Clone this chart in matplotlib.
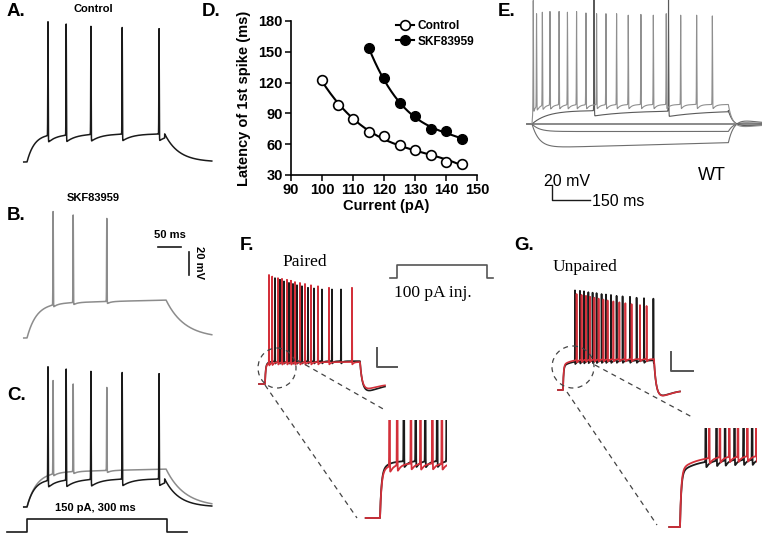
import numpy as np
import matplotlib.pyplot as plt
from matplotlib.patches import Ellipse

plt.rcParams['font.family'] = ['Liberation Sans', 'DejaVu Sans']

# ---------------------------------------------------------
# data
# ---------------------------------------------------------
# A / C : control cell, spike times (ms after step onset) and peaks (mV)
ctrl_spike_t = [45, 84, 137, 204, 283]
ctrl_spike_v = [52, 50, 48, 47, 46]
# B / C : same cell in SKF83959
skf_spike_t = [56, 99, 171]
skf_spike_v = [40, 37, 34]
stim_amp_c = 150   # pA
stim_dur_c = 300   # ms

# D : latency of first spike vs injected current
current_ctrl = [100, 105, 110, 115, 120, 125, 130, 135, 140, 145]
latency_ctrl = [123, 98, 85, 72, 68, 59, 54, 49, 43, 41]
current_skf = [115, 120, 125, 130, 135, 140, 145]
latency_skf = [154, 124, 100, 87, 75, 73, 65]

# E : WT family of current steps
e_fast_t = [5, 18, 41, 71, 107, 140, 176, 213, 255, 292, 334, 380, 430, 479, 530, 587, 650, 712]
e_fast_v = [89, 71, 73, 74, 74, 73, 74, 72, 71, 71, 71, 69, 70, 69, 71, 69, 69, 68]
e_slow_t = [245, 539]
e_slow_v = [91, 91]
e_hyper_levels = [-70, -80, -102]
e_hyper_drift = [0, 0, 7]

# F : paired
f_red_t = [20, 36, 65, 85, 110, 130, 150, 175, 200, 230, 265, 320, 435]
f_red_v = [44.5, 42.7, 41, 40.2, 39.2, 38.2, 36.8, 35.8, 34.7, 33.3, 32.2, 30.5, 30.5]
f_blk_t = [50, 75, 95, 120, 140, 160, 185, 215, 245, 285, 335, 380]
f_blk_v = [41, 39.2, 37.4, 35.8, 34.7, 33.3, 32.2, 30.5, 29.8, 28.7, 28.7, 28.7]
stim_amp_f = 100

# G : unpaired
g_blk_t = [60, 85, 105, 127, 148, 168, 193, 215, 240, 268, 298, 335, 368, 405, 452]
g_blk_v = [34, 33.5, 33, 32, 31.5, 31, 30, 29.5, 29, 28, 27.5, 27, 26, 25.5, 25]
g_red_t = [68, 93, 115, 135, 157, 178, 202, 223, 252, 282, 312, 343, 385, 418]
g_red_v = [30, 29, 28, 27, 26, 25, 24, 23, 22, 21, 20, 19, 18, 17]

W, H = 762, 536
fig = plt.figure(figsize=(W / 100, H / 100), dpi=100)


def fbox(x0, y0, x1, y1):
    return [x0 / W, 1 - y1 / H, (x1 - x0) / W, (y1 - y0) / H]


# axes placed by pixel box, data scale given as units per pixel
def px_axes(x0, y0, x1, y1, x_ref, t_ref, y_ref, v_ref, sx, sy):
    ax = fig.add_axes(fbox(x0, y0, x1, y1))
    ax.set_xlim(t_ref - (x_ref - x0) * sx, t_ref + (x1 - x_ref) * sx)
    ax.set_ylim(v_ref - (y1 - y_ref) * sy, v_ref + (y_ref - y0) * sy)
    ax.axis('off')
    return ax


# simple membrane response to a current step with spikes on top
def make_trace(t, rest, plateau, spikes=(), peaks=(), offset=300.0, tau_on=20.0,
               fast=1.0, tau_slow=40.0, drift=0.0, ahp=0.0, tau_ahp=10.0,
               tau_off=30.0, rebound=0.0, tau_reb=40.0, width=0.4):
    dv = plateau - rest
    v = np.full(t.shape, float(rest))
    on = (t >= 0) & (t < offset)
    s = t[on]
    v[on] = rest + dv * (fast * (1 - np.exp(-s / tau_on)) + (1 - fast) * (1 - np.exp(-s / tau_slow))) + drift * s / offset
    v_end = rest + dv * (fast * (1 - np.exp(-offset / tau_on)) + (1 - fast) * (1 - np.exp(-offset / tau_slow))) + drift
    aft = t >= offset
    d = t[aft] - offset
    v[aft] = rest + (v_end - rest) * (np.exp(-d / tau_off) - rebound * (d / tau_reb) * np.exp(1 - d / tau_reb))
    for ts in spikes:
        m = (t > ts) & (t < offset)
        v[m] -= ahp * np.exp(-(t[m] - ts) / tau_ahp)
    for ts, vp in zip(spikes, peaks):
        i = np.argmin(np.abs(t - ts))
        v += (vp - v[i]) * np.exp(-0.5 * ((t - ts) / width) ** 2)
    return v


BLACK = '#1a1a1a'
GRAY = '#8c8c8c'
RED = '#d3303a'

# ---------------- A, B, C ----------------
ms_abc, mv_abc = 300 / 140, 0.87
t_abc = np.arange(-7, 396, 0.05)
ctrl = make_trace(t_abc, -70, -45.5, ctrl_spike_t, ctrl_spike_v, offset=295, tau_on=16,
                  ahp=6, tau_ahp=22, tau_off=30)
skf = make_trace(t_abc, -70, -40, skf_spike_t, skf_spike_v, offset=298, tau_on=20,
                 drift=3, ahp=2, tau_ahp=8, tau_off=40)

axA = px_axes(15, 15, 215, 170, 27, 0, 162, -70, ms_abc, mv_abc)
axA.plot(t_abc, ctrl, color=BLACK, lw=1.1)

axB = px_axes(15, 200, 215, 345, 27, 0, 338, -70, ms_abc, mv_abc)
axB.plot(t_abc, skf, color=GRAY, lw=1.1)
# scale bars 50 ms / 20 mV
axB.plot([281, 331], [9, 9], color=BLACK, lw=1.2)
axB.plot([347, 347], [5, -15], color=BLACK, lw=1.2)

axC = px_axes(15, 360, 215, 512, 27, 0, 507, -70, ms_abc, mv_abc)
axC.plot(t_abc, skf, color=GRAY, lw=1.1)
axC.plot(t_abc, ctrl, color=BLACK, lw=1.1)

stim_t = np.array([-43, 0, 0, stim_dur_c, stim_dur_c, stim_dur_c + 43])
stim_i = np.array([0, 0, stim_amp_c, stim_amp_c, 0, 0])
axS = px_axes(0, 512, 200, 536, 27, 0, 532, 0, ms_abc, 150 / 13)
axS.plot(stim_t, stim_i, color=BLACK, lw=1.2)

# ---------------- D ----------------
axD = fig.add_axes(fbox(291, 21, 477, 175))
xc = np.linspace(current_ctrl[0], current_ctrl[-1], 200)
xs = np.linspace(current_skf[0], current_skf[-1], 200)
axD.plot(xc, np.polyval(np.polyfit(current_ctrl, latency_ctrl, 3), xc), color='black', lw=1.5)
axD.plot(xs, np.polyval(np.polyfit(current_skf, latency_skf, 3), xs), color='black', lw=1.5)
axD.plot(current_ctrl, latency_ctrl, 'o', color='black', mfc='white', mec='black',
         ms=7, mew=1.2, zorder=3)
axD.plot(current_skf, latency_skf, 'o', color='black', mfc='black', ms=7, zorder=3)
lc, = axD.plot([], [], 'o-', color='black', mfc='white', ms=7, mew=1.2, lw=1.5)
ls_, = axD.plot([], [], 'o-', color='black', mfc='black', ms=7, lw=1.5)
axD.set_xlim(90, 150)
axD.set_ylim(30, 180)
axD.set_xticks(range(90, 151, 10))
axD.set_yticks(range(30, 181, 30))
for s in ['top', 'right']:
    axD.spines[s].set_visible(False)
for s in ['left', 'bottom']:
    axD.spines[s].set_linewidth(1.2)
axD.tick_params(direction='out', length=4, width=1.1, labelsize=10.5, pad=2)
for lab in axD.get_xticklabels() + axD.get_yticklabels():
    lab.set_fontweight('bold')
axD.set_xlabel('Current (pA)', fontsize=10.5, fontweight='bold')
axD.set_ylabel('Latency of 1st spike (ms)', fontsize=10.5, fontweight='bold')
axD.xaxis.set_label_coords(0.51, -0.155)
axD.yaxis.set_label_coords(-0.215, 0.5)
axD.legend([lc, ls_], ['Control', 'SKF83959'], loc='upper left',
           bbox_to_anchor=(396 / W, 1 - 20 / H), bbox_transform=fig.transFigure,
           frameon=False, handlelength=1.5, handletextpad=0.3, labelspacing=0.3,
           borderpad=0, borderaxespad=0, prop=dict(weight='bold', size=8.6))

# ---------------- E ----------------
ms_e, mv_e = 150 / 38, 20 / 15
t_e = np.arange(-20, 912, 0.1)
axE = px_axes(520, 0, 762, 210, 532, 0, 124, -70, ms_e, mv_e)
for lvl, dr in zip(e_hyper_levels, e_hyper_drift):
    v = make_trace(t_e, -70, lvl, offset=775, tau_on=28, drift=dr, tau_off=22,
                   rebound=0.22, tau_reb=45)
    axE.plot(t_e, v, color='#333333' if lvl == -70 else '#6e6e6e', lw=0.8)
v_slow = make_trace(t_e, -70, -52, e_slow_t, e_slow_v, offset=775, tau_on=60, ahp=7,
                    tau_ahp=150, tau_off=18, rebound=0.15, tau_reb=50, width=0.8)
axE.plot(t_e, v_slow, color='#5a5a5a', lw=0.8)
v_fast = make_trace(t_e, -70, -44, e_fast_t, e_fast_v, offset=775, tau_on=4, ahp=7,
                    tau_ahp=12, tau_off=15, rebound=0.15, tau_reb=50, width=0.8)
axE.plot(t_e, v_fast, color='#8f8f8f', lw=0.8)
# scale bars 20 mV / 150 ms
axE.plot([79, 79, 229], [-151, -171, -171], color=BLACK, lw=1.0)

# ---------------- F ----------------
t_f = np.arange(-30, 600, 0.1)
f_red = make_trace(t_f, -70, -47, f_red_t, f_red_v, offset=475, tau_on=3, fast=0.8,
                   tau_slow=15, ahp=3, tau_ahp=8, tau_off=10, rebound=0.22, tau_reb=35)
f_blk = make_trace(t_f, -70, -46, f_blk_t, f_blk_v, offset=475, tau_on=3, fast=0.8,
                   tau_slow=15, ahp=3, tau_ahp=8, tau_off=10, rebound=0.3, tau_reb=40)
axF = px_axes(250, 270, 405, 395, 265, 0, 384, -70, 5, 1.05)
axF.plot(t_f, f_blk, color=BLACK, lw=1.2)
axF.plot(t_f, f_red, color=RED, lw=1.2)
axF.plot([560, 560, 660], [-32, -52, -52], color='#555555', lw=1.4)

axFi = px_axes(360, 420, 447, 522, 380, 0, 518, -70, 2.1, 0.42)
axFi.plot(t_f, f_blk, color=BLACK, lw=1.3)
axFi.plot(t_f, f_red, color=RED, lw=1.3)

stim_tf = np.array([-35, 0, 0, 475, 475, 505])
stim_if = np.array([0, 0, stim_amp_f, stim_amp_f, 0, 0])
axFs = px_axes(385, 260, 500, 282, 397, 0, 278, 0, 475 / 90, 100 / 13)
axFs.plot(stim_tf, stim_if, color='#555555', lw=1.2)

# ---------------- G ----------------
t_g = np.arange(-25, 585, 0.1)
g_red = make_trace(t_g, -70, -37.5, g_red_t, g_red_v, offset=455, tau_on=3, fast=0.8,
                   tau_slow=40, ahp=3, tau_ahp=8, tau_off=10, rebound=0.2, tau_reb=35)
g_blk = make_trace(t_g, -70, -39, g_blk_t, g_blk_v, offset=455, tau_on=3, fast=0.8,
                   tau_slow=40, ahp=3, tau_ahp=8, tau_off=10, rebound=0.2, tau_reb=35)
axG = px_axes(550, 280, 700, 400, 563, 0, 390, -70, 5, 1.05)
axG.plot(t_g, g_blk, color=BLACK, lw=1.2)
axG.plot(t_g, g_red, color=RED, lw=1.2)
axG.plot([540, 540, 650], [-30, -50, -50], color='#555555', lw=1.4)

axGi = px_axes(660, 428, 757, 530, 680, 0, 527, -70, 2.33, 0.455)
axGi.plot(t_g, g_blk, color=BLACK, lw=1.3)
axGi.plot(t_g, g_red, color=RED, lw=1.3)

# ---------------- labels, zoom markers ----------------
ov = fig.add_axes([0, 0, 1, 1])
ov.set_xlim(0, W)
ov.set_ylim(H, 0)
ov.axis('off')

big = dict(fontsize=13.5, fontweight='bold', va='center', ha='left')
for lab, x, y in [('A.', 7, 12), ('B.', 7, 216), ('C.', 7, 395), ('D.', 202, 12),
                  ('E.', 498, 12), ('F.', 240, 246), ('G.', 514, 246)]:
    ov.text(x, y, lab, **big)

small = dict(fontsize=8, fontweight='bold', va='center', ha='center')
ov.text(93, 9, 'Control', **small)
ov.text(93, 198, 'SKF83959', **small)
ov.text(170, 235, '50 ms', **small)
ov.text(199, 263, '20 mV', rotation=270, **small)
ov.text(95, 508, '150 pA, 300 ms', **small)

ov.text(567, 181, '20 mV', fontsize=11.5, va='center', ha='center')
ov.text(592, 201, '150 ms', fontsize=11.5, va='center', ha='left')
ov.text(712, 175, 'WT', fontsize=13, va='center', ha='center')

serif = dict(family=['Liberation Serif', 'DejaVu Serif'], fontsize=12.5, va='center', ha='center')
ov.text(305, 262, 'Paired', **serif)
ov.text(585, 267, 'Unpaired', **serif)
ov.text(433, 293, '100 pA inj.', **serif)

dash = dict(color='#444444', lw=0.9, ls=(0, (4, 3.5)))
ov.add_patch(Ellipse((277, 368), 38, 40, fill=False, **dash))
ov.plot([265, 357], [385, 518], **dash)
ov.plot([297, 385], [360, 410], **dash)
ov.add_patch(Ellipse((573, 367), 42, 42, fill=False, **dash))
ov.plot([567, 657], [392, 525], **dash)
ov.plot([595, 692], [365, 417], **dash)

fig.savefig('out.png', dpi=100)
